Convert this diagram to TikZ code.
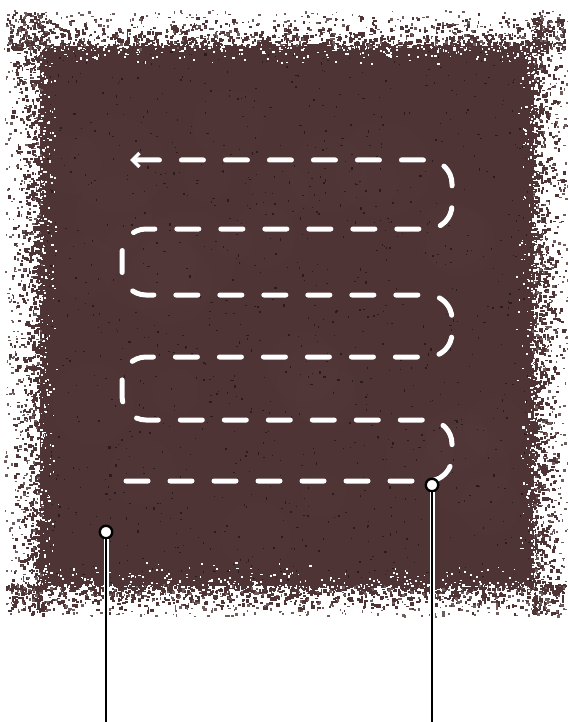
\documentclass[tikz,border=0pt]{standalone}
\usetikzlibrary{arrows.meta}

\definecolor{soil}{HTML}{4F3436}
\definecolor{soildark}{HTML}{2C1B1C}
\definecolor{soillight}{HTML}{6A4A4C}
\definecolor{soilgrey}{HTML}{6E5D5D}

\tikzset{
  route/.style={white, line width=5pt, line cap=round,
    dash pattern=on 22pt off 22pt, rounded corners=24pt},
  pin/.style={circle, draw=black, fill=white, line width=2.4pt,
    inner sep=0pt, minimum size=12.5pt},
  halo/.style={white, line width=5pt},
  leader/.style={black, line width=2.2pt},
}

\begin{document}
\begin{tikzpicture}[x=1pt,y=-1pt]

    \useasboundingbox (0,0) rectangle (567,722);
    \pgfmathsetseed{7}

    % 画底色
    \fill[soil] (40,46) rectangle (534,586);

    % 画斑驳的边缘
    \foreach \i in {1,...,1100} {
      \fill[soil] ({6+558*rnd},{48-36*rnd*rnd}) rectangle +({1.5+2.5*rnd},{1.5+2.5*rnd});
      \fill[soil] ({6+558*rnd},{584+30*rnd*rnd}) rectangle +({1.5+2.5*rnd},{1.5+2.5*rnd});
      \fill[soil] ({42-36*rnd*rnd},{12+602*rnd}) rectangle +({1.5+2.5*rnd},{1.5+2.5*rnd});
      \fill[soil] ({532+34*rnd*rnd},{12+602*rnd}) rectangle +({1.5+2.5*rnd},{1.5+2.5*rnd});
    }
    \foreach \i in {1,...,350} {
      \fill[soilgrey] ({6+558*rnd},{48-38*rnd}) rectangle +({1+2*rnd},{1+2*rnd});
      \fill[soilgrey] ({6+558*rnd},{584+32*rnd}) rectangle +({1+2*rnd},{1+2*rnd});
      \fill[soilgrey] ({42-38*rnd},{12+602*rnd}) rectangle +({1+2*rnd},{1+2*rnd});
      \fill[soilgrey] ({532+36*rnd},{12+602*rnd}) rectangle +({1+2*rnd},{1+2*rnd});
    }
    \foreach \i in {1,...,260} {
      \fill[white] ({20+530*rnd},{586-26*rnd*rnd}) rectangle +({1+1.5*rnd},{1+1.5*rnd});
      \fill[white] ({20+530*rnd},{46+20*rnd*rnd}) rectangle +({1+1.5*rnd},{1+1.5*rnd});
      \fill[white] ({40+20*rnd*rnd},{26+570*rnd}) rectangle +({1+1.5*rnd},{1+1.5*rnd});
      \fill[white] ({534-20*rnd*rnd},{26+570*rnd}) rectangle +({1+1.5*rnd},{1+1.5*rnd});
    }

    % 画浅色斑块和深色颗粒
    \foreach \i in {1,...,30} {
      \fill[soillight, opacity=0.07] ({70+430*rnd},{80+470*rnd}) circle ({18+30*rnd});
    }
    \foreach \i in {1,...,1000} {
      \fill[soildark] ({44+486*rnd},{50+532*rnd}) rectangle +({0.8+2.4*rnd*rnd},{0.8+2.4*rnd*rnd});
    }

    % 画虚线路线
    \draw[route, -{Straight Barb[length=7pt, width=14pt, line width=3.5pt]}]
      (126,481) -- (452,481) -- (452,420) -- (122,420) -- (122,357)
      -- (452,357) -- (452,295) -- (122,295) -- (122,229)
      -- (452,229) -- (452,160) -- (130,160);

    % 画引线
    \node[pin] (pinA) at (106,532) {};
    \node[pin] (pinB) at (432,485) {};
    \coordinate (footA) at (106,722);
    \coordinate (footB) at (432,722);
    \draw[halo] (footA) -- (pinA);
    \draw[halo] (footB) -- (pinB);
    \draw[leader] (footA) -- (pinA);
    \draw[leader] (footB) -- (pinB);

  \end{tikzpicture}
\end{document}
